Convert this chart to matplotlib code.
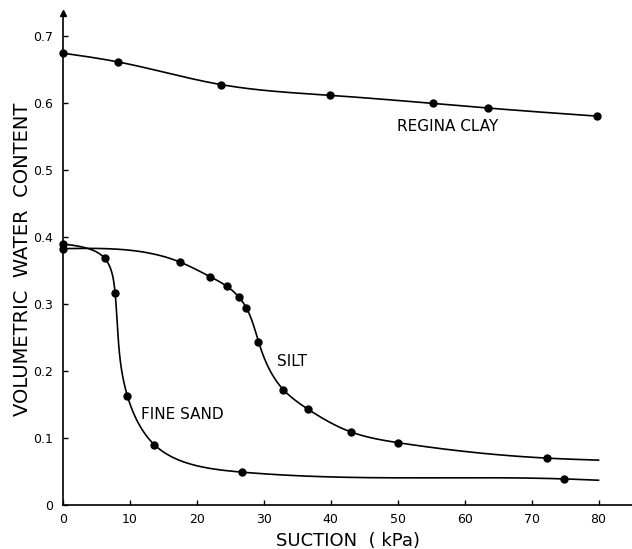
import numpy as np
import matplotlib
matplotlib.use('Agg')
import matplotlib.pyplot as plt

# points
clay_x = [0, 8.2, 23.6, 39.9, 55.2, 63.5, 79.7]
clay_y = [0.675, 0.662, 0.628, 0.612, 0.600, 0.593, 0.581]

silt_x = [0, 17.5, 22.0, 24.5, 26.3, 27.4, 29.2, 32.9, 36.6, 43.0, 50.1, 72.3]
silt_y = [0.383, 0.363, 0.341, 0.327, 0.311, 0.295, 0.244, 0.172, 0.143, 0.109, 0.093, 0.070]

sand_x = [0, 6.3, 7.8, 9.6, 13.6, 26.8, 74.8]
sand_y = [0.390, 0.369, 0.316, 0.163, 0.090, 0.049, 0.039]

# where the drawn curves stop (no data point there)
curve_end_x = 80
silt_end_y = 0.067
sand_end_y = 0.037

xticks = [0, 10, 20, 30, 40, 50, 60, 70, 80]
xtick_labels = ['0', '10', '20', '30', '40', '50', '60', '70', '80']
yticks = [0, 0.1, 0.2, 0.3, 0.4, 0.5, 0.6, 0.7]
ytick_labels = ['0', '0.1', '0.2', '0.3', '0.4', '0.5', '0.6', '0.7']


def natural_spline(t, v, ts):
	n = len(t)
	h = np.diff(t)
	A = np.zeros((n, n))
	r = np.zeros(n)
	A[0, 0] = 1
	A[-1, -1] = 1
	for i in range(1, n - 1):
		A[i, i - 1] = h[i - 1]
		A[i, i] = 2 * (h[i - 1] + h[i])
		A[i, i + 1] = h[i]
		r[i] = 6 * ((v[i + 1] - v[i]) / h[i] - (v[i] - v[i - 1]) / h[i - 1])
	M = np.linalg.solve(A, r)
	idx = np.clip(np.searchsorted(t, ts) - 1, 0, n - 2)
	hi = h[idx]
	a = t[idx + 1] - ts
	b = ts - t[idx]
	return (M[idx] * a**3 / (6 * hi) + M[idx + 1] * b**3 / (6 * hi)
		+ (v[idx] / hi - M[idx] * hi / 6) * a + (v[idx + 1] / hi - M[idx + 1] * hi / 6) * b)


def gauss_smooth(v, sigma):
	# odd reflection at the ends keeps the end points in place
	pad = int(3 * sigma) + 1
	left = 2 * v[0] - v[1:pad + 1][::-1]
	right = 2 * v[-1] - v[-pad - 1:-1][::-1]
	vv = np.concatenate([left, v, right])
	k = np.arange(-pad, pad + 1)
	w = np.exp(-0.5 * (k / sigma) ** 2)
	w /= w.sum()
	return np.convolve(vv, w, mode='same')[pad:-pad]


def smooth_curve(x, y, step=1.0, sigma_px=6.0):
	"""parametric cubic spline (chord length) in screen-scaled units, lightly smoothed like a french curve"""
	sx, sy = 6.69, 669.0
	X = np.asarray(x, float) * sx
	Y = np.asarray(y, float) * sy
	t = np.concatenate([[0], np.cumsum(np.hypot(np.diff(X), np.diff(Y)))])
	ts = np.arange(0, t[-1] + step, step)
	ts[-1] = t[-1]
	xs = gauss_smooth(natural_spline(t, X, ts), sigma_px / step)
	ys = gauss_smooth(natural_spline(t, Y, ts), sigma_px / step)
	return xs / sx, ys / sy


fig = plt.figure(figsize=(6.32, 5.49), dpi=100)
ax = fig.add_axes([63 / 632, 44 / 549, 569 / 632, 492 / 549])

lw = 1.2
xs, ys = smooth_curve(clay_x, clay_y)
ax.plot(xs, ys, color='black', lw=lw)
xs, ys = smooth_curve(silt_x + [curve_end_x], silt_y + [silt_end_y])
ax.plot(xs, ys, color='black', lw=lw)
xs, ys = smooth_curve(sand_x + [curve_end_x], sand_y + [sand_end_y])
ax.plot(xs, ys, color='black', lw=lw)

for px, py in [(clay_x, clay_y), (silt_x, silt_y), (sand_x, sand_y)]:
	ax.plot(px, py, 'o', color='black', ms=5, clip_on=False, zorder=5)

ax.text(49.9, 0.565, 'REGINA CLAY', fontsize=11, va='center', ha='left')
ax.text(32.0, 0.214, 'SILT', fontsize=11, va='center', ha='left')
ax.text(11.7, 0.135, 'FINE SAND', fontsize=11, va='center', ha='left')

ax.set_xlim(0, 85)
ax.set_ylim(0, 0.735)
ax.set_xticks(xticks)
ax.set_xticklabels(xtick_labels)
ax.set_yticks(yticks)
ax.set_yticklabels(ytick_labels)
ax.tick_params(direction='in', length=3.6, width=1, labelsize=9, color='black')
ax.tick_params(axis='x', pad=6)
ax.tick_params(axis='y', pad=7)

ax.spines['top'].set_visible(False)
ax.spines['right'].set_visible(False)
ax.spines['left'].set_linewidth(1.2)
ax.spines['bottom'].set_linewidth(1.2)
# arrow on the y axis
ax.plot([0], [1], '^', color='black', ms=5, transform=ax.transAxes, clip_on=False)

ax.set_xlabel('SUCTION  ( kPa)', fontsize=13, labelpad=4)
ax.set_ylabel('VOLUMETRIC  WATER  CONTENT', fontsize=14, labelpad=1)

fig.savefig('out.png', dpi=100)
